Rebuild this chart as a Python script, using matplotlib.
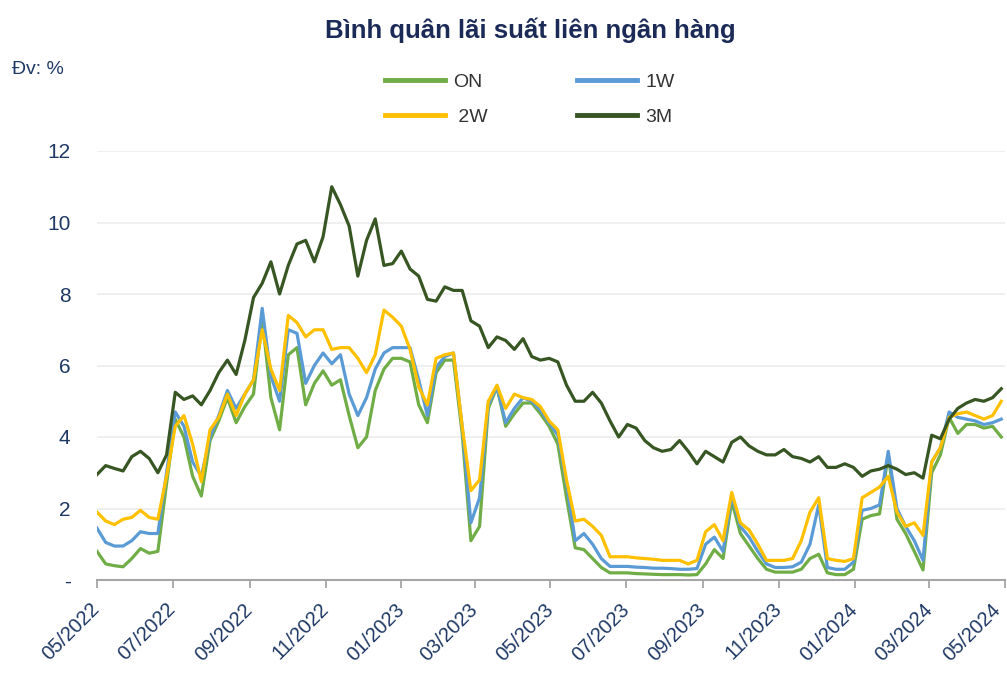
import matplotlib
matplotlib.use("Agg")
import matplotlib.pyplot as plt
import matplotlib.dates as mdates
import matplotlib.transforms as mtransforms
import pandas as pd
import numpy as np

plt.rcParams['font.family'] = ['Liberation Sans', 'DejaVu Sans']

# Weekly observations, 05/2022 - 04/2024
dates = pd.date_range('2022-05-01', periods=105, freq='7D')

rate_on = [0.8, 0.45, 0.4, 0.37, 0.6, 0.88, 0.75, 0.8, 2.7, 4.5,
           4.0, 2.9, 2.35, 3.9, 4.45, 5.1, 4.4, 4.85, 5.2, 7.3,
           5.1, 4.2, 6.3, 6.5, 4.9, 5.5, 5.85, 5.45, 5.6, 4.6,
           3.7, 4.0, 5.3, 5.9, 6.2, 6.2, 6.1, 4.9, 4.4, 5.8,
           6.15, 6.15, 4.1, 1.1, 1.5, 4.8, 5.4, 4.3, 4.65, 4.95,
           4.95, 4.65, 4.3, 3.8, 2.3, 0.9, 0.85, 0.6, 0.35, 0.2,
           0.2, 0.2, 0.18, 0.17, 0.16, 0.15, 0.15, 0.15, 0.14, 0.15,
           0.45, 0.85, 0.6, 2.2, 1.3, 0.95, 0.6, 0.3, 0.22, 0.22,
           0.22, 0.3, 0.6, 0.72, 0.2, 0.15, 0.15, 0.3, 1.7, 1.8,
           1.85, 3.5, 1.7, 1.3, 0.8, 0.28, 3.0, 3.5, 4.55, 4.1,
           4.35, 4.35, 4.25, 4.3, 4.0]

rate_1w = [1.45, 1.05, 0.95, 0.95, 1.1, 1.35, 1.3, 1.3, 3.0, 4.7,
           4.3, 3.3, 2.9, 4.0, 4.6, 5.3, 4.8, 5.2, 5.6, 7.6,
           5.7, 5.0, 7.0, 6.9, 5.5, 6.0, 6.35, 6.05, 6.3, 5.2,
           4.6, 5.1, 5.9, 6.35, 6.5, 6.5, 6.5, 5.6, 4.6, 5.95,
           6.25, 6.35, 4.3, 1.6, 2.3, 4.9, 5.4, 4.4, 4.8, 5.1,
           5.0, 4.75, 4.4, 4.05, 2.7, 1.1, 1.3, 1.0, 0.6, 0.38,
           0.38, 0.38, 0.36, 0.35, 0.33, 0.33, 0.32, 0.3, 0.3, 0.32,
           1.0, 1.2, 0.8, 2.35, 1.5, 1.2, 0.8, 0.45, 0.35, 0.35,
           0.37, 0.5, 1.0, 2.1, 0.35, 0.3, 0.3, 0.5, 1.95, 2.0,
           2.1, 3.6, 2.0, 1.5, 1.1, 0.55, 3.3, 3.7, 4.7, 4.55,
           4.5, 4.45, 4.35, 4.4, 4.5]

rate_2w = [1.9, 1.65, 1.55, 1.7, 1.75, 1.95, 1.75, 1.7, 2.9, 4.3,
           4.6, 3.8, 2.75, 4.2, 4.55, 5.2, 4.6, 5.2, 5.6, 7.0,
           5.9, 5.3, 7.4, 7.2, 6.8, 7.0, 7.0, 6.45, 6.5, 6.5,
           6.2, 5.8, 6.3, 7.55, 7.35, 7.1, 6.45, 5.4, 4.9, 6.2,
           6.3, 6.35, 4.3, 2.5, 2.8, 5.0, 5.45, 4.8, 5.2, 5.1,
           5.05, 4.85, 4.45, 4.2, 2.8, 1.65, 1.7, 1.5, 1.25, 0.65,
           0.65, 0.65, 0.62, 0.6, 0.58, 0.55, 0.55, 0.55, 0.45, 0.55,
           1.35, 1.55, 1.1, 2.45, 1.6, 1.4, 1.0, 0.55, 0.55, 0.55,
           0.6, 1.1, 1.9, 2.3, 0.6, 0.55, 0.52, 0.6, 2.3, 2.45,
           2.6, 2.9, 1.9, 1.5, 1.6, 1.25, 3.3, 3.7, 4.55, 4.65,
           4.7, 4.6, 4.5, 4.6, 5.0]

rate_3m = [2.95, 3.2, 3.12, 3.05, 3.45, 3.6, 3.4, 3.0, 3.5, 5.25,
           5.05, 5.15, 4.9, 5.3, 5.8, 6.15, 5.75, 6.7, 7.9, 8.3,
           8.9, 8.0, 8.8, 9.4, 9.5, 8.9, 9.6, 11.0, 10.5, 9.9,
           8.5, 9.5, 10.1, 8.8, 8.85, 9.2, 8.7, 8.5, 7.85, 7.8,
           8.2, 8.1, 8.1, 7.25, 7.1, 6.5, 6.8, 6.7, 6.45, 6.75,
           6.25, 6.15, 6.2, 6.1, 5.45, 5.0, 5.0, 5.25, 4.95, 4.45,
           4.0, 4.35, 4.25, 3.9, 3.7, 3.6, 3.65, 3.9, 3.6, 3.25,
           3.6, 3.45, 3.3, 3.85, 4.0, 3.75, 3.6, 3.5, 3.5, 3.65,
           3.45, 3.4, 3.3, 3.45, 3.15, 3.15, 3.25, 3.15, 2.9, 3.05,
           3.1, 3.2, 3.1, 2.95, 3.0, 2.85, 4.05, 3.95, 4.5, 4.8,
           4.95, 5.05, 5.0, 5.1, 5.35]

series_names = ['ON', '1W', ' 2W', '3M']
series_colors = ['#70ad47', '#5b9bd5', '#ffc000', '#375623']
yticks = [0, 2, 4, 6, 8, 10, 12]
ytick_labels = ['-', '2', '4', '6', '8', '10', '12']

navy = '#1f3864'

fig = plt.figure(figsize=(10.07, 6.76), dpi=100)
ax = fig.add_axes([97 / 1007, 96 / 676, 908 / 1007, 429 / 676])

lines = []
for vals, name, col in zip([rate_on, rate_1w, rate_2w, rate_3m], series_names, series_colors):
    ln, = ax.plot(dates, vals, color=col, lw=2.3, label=name, solid_joinstyle='round')
    lines.append(ln)

ax.set_xlim(pd.Timestamp('2022-05-01'), pd.Timestamp('2024-05-01'))
ax.set_ylim(0, 12)
ax.set_yticks(yticks)
ax.set_yticklabels(ytick_labels)
ax.yaxis.grid(True, color='#ececec', lw=1.2)
ax.set_axisbelow(True)

ax.xaxis.set_major_locator(mdates.MonthLocator(bymonth=[1, 3, 5, 7, 9, 11]))
ax.xaxis.set_major_formatter(mdates.DateFormatter('%m/%Y'))

for s in ['top', 'right', 'left']:
    ax.spines[s].set_visible(False)
ax.spines['bottom'].set_color('#a6a6a6')
ax.spines['bottom'].set_linewidth(1.5)

ax.tick_params(axis='y', length=0, pad=19, labelsize=15, labelcolor=navy)
ax.tick_params(axis='x', length=6, width=1.3, color='#a6a6a6', pad=13,
               labelsize=14.5, labelcolor=navy)
xlabels = ax.get_xticklabels()
for i, lab in enumerate(xlabels):
    lab.set_rotation(45)
    lab.set_ha('right')
    lab.set_va('center')
    lab.set_rotation_mode('anchor')
    if i == len(xlabels) - 1:
        lab.set_transform(lab.get_transform() +
                          mtransforms.ScaledTranslation(-5 / 72, 0, fig.dpi_scale_trans))

fig.text(530 / 1007, 1 - 30 / 676, 'Bình quân lãi suất liên ngân hàng',
         ha='center', va='center', fontsize=18.5, fontweight='bold', color='#1b2a57')
fig.text(12 / 1007, 1 - 70 / 676, 'Đv: %', ha='left', va='center',
         fontsize=14, color=navy)

# row-major legend: ON, 1W / 2W, 3M
order = [0, 2, 1, 3]
leg = fig.legend(handles=[lines[k] for k in order], loc='upper left',
                 bbox_to_anchor=(385 / 1007, 1 - 73 / 676),
                 ncol=2, frameon=False, fontsize=14, handlelength=3.1,
                 columnspacing=4.6, handletextpad=0.4, labelspacing=0.9,
                 borderpad=0, borderaxespad=0)
for t in leg.get_texts():
    t.set_color('#333333')
for h in leg.legend_handles:
    h.set_linewidth(3.5)

fig.savefig('out.png', dpi=100)
